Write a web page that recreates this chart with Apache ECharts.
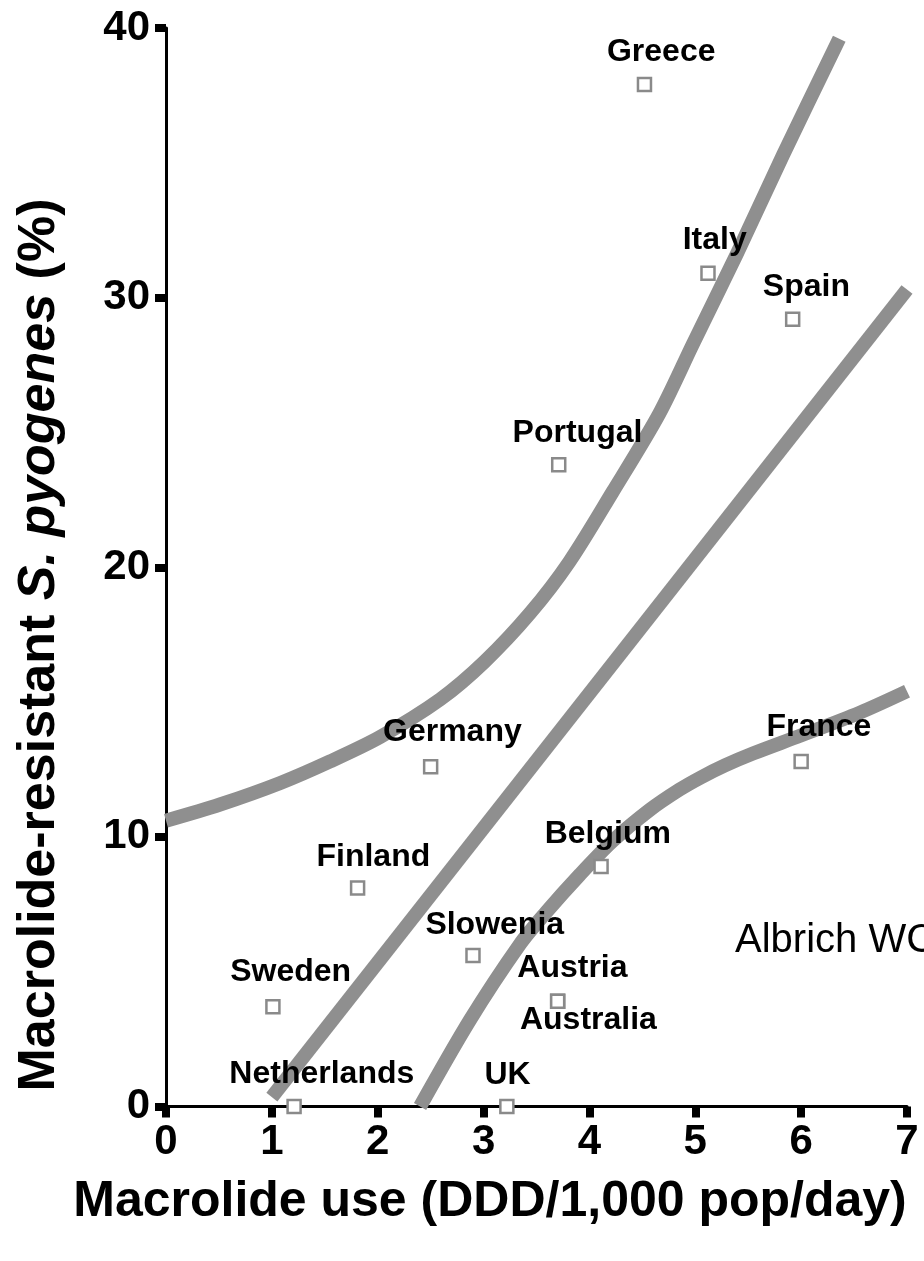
<!DOCTYPE html>
<html>
<head>
<meta charset="utf-8">
<title>Macrolide use vs macrolide-resistant S. pyogenes</title>
<script src="https://cdn.jsdelivr.net/npm/echarts@6/dist/echarts.min.js"></script>
<style>
  html, body { margin: 0; padding: 0; background: #fff; }
  #chart { width: 924px; height: 1261px; }
</style>
</head>
<body>
<div id="chart"></div>
<script>
// Country data: macrolide use (DDD/1,000 pop/day) and resistance (%)
const countries = ['Greece', 'Italy', 'Spain', 'Portugal', 'Germany', 'France', 'Belgium',
  'Finland', 'Slowenia', 'Sweden', 'Austria', 'Australia', 'Netherlands', 'UK'];
const macrolideUse = [4.52, 5.12, 5.92, 3.71, 2.50, 6.00, 4.11, 1.81, 2.90, 1.01, 3.70, 3.70, 1.21, 3.22];
const resistance = [37.9, 30.9, 29.2, 23.8, 12.6, 12.8, 8.9, 8.1, 5.6, 3.7, 3.9, 3.9, 0, 0];

// Trend curves
const upperX = [0, 0.51, 1.08, 1.55, 2.02, 2.59, 3.01, 3.44, 3.81, 4.22, 4.66, 4.98, 5.39, 5.83, 6.36];
const upperY = [10.6, 11.2, 12.0, 12.8, 13.7, 15.1, 16.5, 18.3, 20.2, 22.8, 25.7, 28.3, 31.6, 35.3, 39.6];
const middleX = [1.0, 7.0];
const middleY = [0.35, 30.3];
const lowerX = [2.40, 2.87, 3.34, 3.59, 3.91, 4.22, 4.57, 4.85, 5.05, 5.28, 5.55, 5.99, 6.55, 7.0];
const lowerY = [0.0, 3.2, 6.0, 7.2, 8.6, 9.85, 11.0, 11.75, 12.2, 12.65, 13.1, 13.75, 14.6, 15.4];

// Axis ticks
const xTicks = [0, 1, 2, 3, 4, 5, 6, 7];
const yTicks = [0, 10, 20, 30, 40];

// Label placement (text centre relative to the marker centre, px)
const labelOffsets = {
  Greece: [18, -31], Italy: [8, -32], Spain: [15, -31], Portugal: [20, -30],
  Germany: [23, -33], France: [19, -33], Belgium: [8, -31], Finland: [17, -30],
  Slowenia: [23, -29], Sweden: [19, -33], Austria: [16, -32], Australia: [32, 20],
  Netherlands: [29, -31], UK: [2, -30]
};

const FONT = '"Liberation Sans", Arial, Helvetica, sans-serif';
const MARK = 13;
const zip = (xs, ys) => xs.map((x, i) => [x, ys[i]]);

const chart = echarts.init(document.getElementById('chart'));

const lineStyle = { color: '#8f8f8f', width: 14, cap: 'butt', join: 'round' };
const trend = (name, xs, ys, smooth) => ({
  name, type: 'line', data: zip(xs, ys), smooth,
  showSymbol: false, symbol: 'none', lineStyle, z: 2, silent: true, clip: true
});

chart.setOption({
  animation: false,
  backgroundColor: '#fff',
  grid: { left: 166, right: 17, top: 28, bottom: 154.5, containLabel: false },
  xAxis: {
    type: 'value', min: xTicks[0], max: xTicks[xTicks.length - 1], interval: 1,
    axisLine: { show: true, onZero: false, lineStyle: { color: '#000', width: 3 } },
    axisTick: { show: true, length: 11, lineStyle: { color: '#000', width: 8 } },
    axisLabel: { fontSize: 42, fontWeight: 'bold', color: '#000', fontFamily: FONT, margin: 15 },
    splitLine: { show: false }
  },
  yAxis: {
    type: 'value', min: yTicks[0], max: yTicks[yTicks.length - 1], interval: 10,
    axisLine: { show: true, onZero: false, lineStyle: { color: '#000', width: 3 } },
    axisTick: { show: true, length: 11, lineStyle: { color: '#000', width: 8 } },
    axisLabel: { fontSize: 42, fontWeight: 'bold', color: '#000', fontFamily: FONT, margin: 16 },
    splitLine: { show: false }
  },
  graphic: [
    {
      type: 'text', x: 490, y: 1202, z: 10,
      style: {
        text: 'Macrolide use (DDD/1,000 pop/day)',
        font: 'bold 50px ' + FONT, fill: '#000',
        align: 'center', verticalAlign: 'middle'
      }
    },
    {
      type: 'text', x: 40, y: 645, rotation: Math.PI / 2, z: 10,
      style: {
        text: '{b|Macrolide-resistant }{i|S. pyogenes}{b| (%)}',
        align: 'center', verticalAlign: 'middle',
        rich: {
          b: { fontSize: 52, fontWeight: 'bold', fontFamily: FONT, fill: '#000', color: '#000' },
          i: { fontSize: 52, fontWeight: 'bold', fontStyle: 'italic', fontFamily: FONT, fill: '#000', color: '#000' }
        }
      }
    },
    {
      type: 'text', x: 735, y: 941, z: 10,
      style: {
        text: 'Albrich WC', font: '40px ' + FONT, fill: '#000',
        align: 'left', verticalAlign: 'middle'
      }
    }
  ],
  series: [
    trend('Upper', upperX, upperY, 0.3),
    trend('Middle', middleX, middleY, false),
    trend('Lower', lowerX, lowerY, 0.3),
    {
      name: 'Countries', type: 'scatter', z: 5, silent: true, clip: false,
      symbol: 'rect', symbolSize: MARK,
      itemStyle: { color: '#fff', borderColor: '#8a8a8a', borderWidth: 2.5, opacity: 1 },
      data: countries.map((c, i) => ({
        name: c, value: [macrolideUse[i], resistance[i]],
        label: {
          show: true,
          // position is measured from the symbol's top-left corner
          position: [MARK / 2 + labelOffsets[c][0], MARK / 2 + labelOffsets[c][1]],
          formatter: '{b}', fontSize: 32, fontWeight: 'bold', color: '#000',
          fontFamily: FONT, align: 'center', verticalAlign: 'middle'
        }
      })),
      labelLayout: { hideOverlap: false }
    }
  ]
});
</script>
</body>
</html>
